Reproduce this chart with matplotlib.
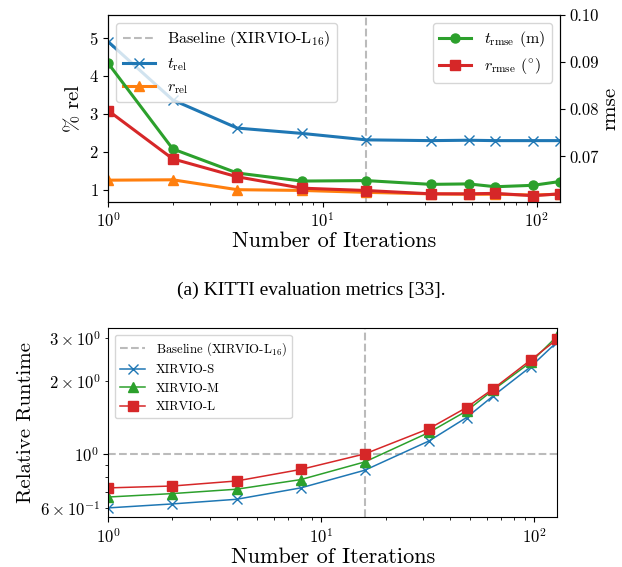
import matplotlib
matplotlib.use("Agg")
import matplotlib.pyplot as plt

plt.rcParams["font.family"] = "serif"
plt.rcParams["font.serif"] = ["cmr10"]
plt.rcParams["mathtext.fontset"] = "cm"
plt.rcParams["axes.formatter.use_mathtext"] = True

# Dati
iterazioni = [1, 2, 4, 8, 16, 32, 48, 64, 96, 128]
t_rel = [4.89, 3.36, 2.62, 2.48, 2.31, 2.29, 2.30, 2.29, 2.29, 2.29]
r_rel = [1.25, 1.26, 1.00, 0.98, 0.93, 0.89, 0.88, 0.88, 0.86, 0.88]
t_rmse = [0.0897, 0.0716, 0.0665, 0.0648, 0.0649, 0.0641, 0.0642, 0.0636, 0.0639, 0.0647]
r_rmse = [0.0797, 0.0695, 0.0657, 0.0633, 0.0628, 0.0621, 0.0621, 0.0622, 0.0617, 0.0621]

runtime_s = [0.600, 0.623, 0.651, 0.725, 0.857, 1.13, 1.41, 1.73, 2.28, 2.89]
runtime_m = [0.665, 0.687, 0.716, 0.784, 0.927, 1.225, 1.50, 1.83, 2.38, 3.05]
runtime_l = [0.725, 0.738, 0.774, 0.863, 1.0, 1.27, 1.55, 1.85, 2.43, 2.96]

baseline_iter = 16

fig = plt.figure(figsize=(6.22, 5.67), dpi=100)

# Grafico superiore: metriche KITTI
ax1 = fig.add_axes([0.174, 0.644, 0.726, 0.330])
ax1.axvline(baseline_iter, color="#bbbbbb", linestyle="--", linewidth=1.5,
            label=r"Baseline (XIRVIO-L$_{16}$)")
ax1.plot(iterazioni, t_rel, color="tab:blue", marker="x", markersize=7, linewidth=2.2,
         label=r"$t_{\mathrm{rel}}$")
ax1.plot(iterazioni, r_rel, color="tab:orange", marker="^", markersize=7, linewidth=2.2,
         label=r"$r_{\mathrm{rel}}$")
ax1.set_xscale("log")
ax1.set_xlim(1, 128)
ax1.set_ylim(0.68, 5.6)
ax1.set_yticks([1, 2, 3, 4, 5])
ax1.set_ylabel(r"$\%$ rel", fontsize=15)
ax1.set_xlabel("Number of Iterations", fontsize=16, labelpad=1)
ax1.tick_params(labelsize=12)
ax1.legend(loc="upper left", fontsize=11.5, handlelength=2.0, labelspacing=0.45)

ax2 = ax1.twinx()
ax2.plot(iterazioni, t_rmse, color="tab:green", marker="o", markersize=6.5, linewidth=2.2,
         label=r"$t_{\mathrm{rmse}}$ (m)")
ax2.plot(iterazioni, r_rmse, color="tab:red", marker="s", markersize=6.5, linewidth=2.2,
         label=r"$r_{\mathrm{rmse}}$ ($^{\circ}$)")
ax2.set_ylim(0.0604, 0.1)
ax2.set_yticks([0.07, 0.08, 0.09, 0.10])
ax2.set_yticklabels(["0.07", "0.08", "0.09", "0.10"])
ax2.set_ylabel("rmse", fontsize=15, labelpad=2)
ax2.tick_params(labelsize=12)
ax2.legend(loc="upper right", fontsize=11.5, handlelength=2.0, labelspacing=0.45)

# Didascalia
fig.text(0.5, 0.488, "(a) KITTI evaluation metrics [33].", ha="center", va="center",
         fontsize=14, family="Liberation Serif")

# Grafico inferiore: runtime relativo
ax3 = fig.add_axes([0.174, 0.088, 0.722, 0.333])
ax3.axvline(baseline_iter, color="#bbbbbb", linestyle="--", linewidth=1.5)
ax3.axhline(1.0, color="#bbbbbb", linestyle="--", linewidth=1.5,
            label=r"Baseline (XIRVIO-L$_{16}$)")
ax3.plot(iterazioni, runtime_s, color="tab:blue", marker="x", markersize=6.5, linewidth=1.1,
         label="XIRVIO-S")
ax3.plot(iterazioni, runtime_m, color="tab:green", marker="^", markersize=6.5, linewidth=1.1,
         label="XIRVIO-M")
ax3.plot(iterazioni, runtime_l, color="tab:red", marker="s", markersize=6.5, linewidth=1.1,
         label="XIRVIO-L")
ax3.set_xscale("log")
ax3.set_yscale("log")
ax3.set_xlim(1, 128)
ax3.set_ylim(0.55, 3.28)
ax3.set_ylabel("Relative Runtime", fontsize=15)
ax3.set_xlabel("Number of Iterations", fontsize=16, labelpad=1)
ax3.tick_params(which="both", labelsize=12)
ax3.legend(loc="upper left", fontsize=9.2, handlelength=2.0)

fig.savefig("out.png", dpi=100)
